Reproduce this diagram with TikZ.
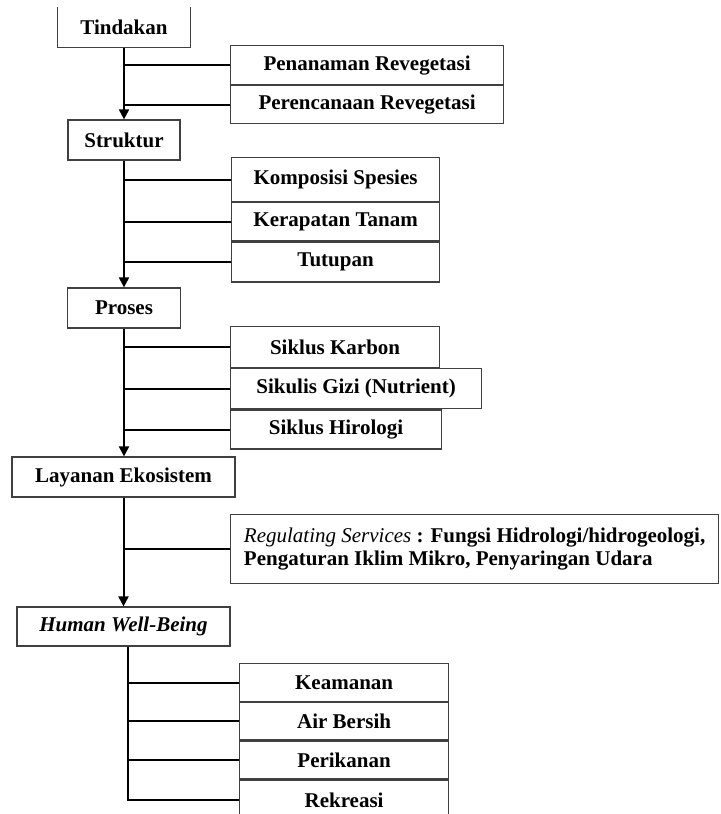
\documentclass[tikz,border=0pt]{standalone}
\usepackage{fontspec}
\setmainfont{Liberation Serif}
\usepackage{tikz}
\usetikzlibrary{positioning,arrows.meta}
\tikzset{
  main/.style={rectangle,draw=black!75,line width=0.6pt,fill=white,inner sep=0pt,minimum height=19.5pt,font=\fontsize{10.5}{12.5}\selectfont\bfseries},
  sub/.style={rectangle,draw=black!75,line width=0.6pt,fill=white,inner sep=0pt,minimum width=104.5pt,minimum height=19.5pt,anchor=north west,font=\fontsize{10.5}{12.5}\selectfont\bfseries},
  frame/.style={line width=0.6pt,black!75},
  flow/.style={-{Triangle[length=5pt,width=5pt]},line width=1pt,black},
  branch/.style={line width=1pt,black},
}
\begin{document}
\begin{tikzpicture}[x=0.5pt,y=-0.5pt]
  \useasboundingbox (0,0) rectangle (720,814);
  \node[main,draw=none,fill=none,minimum width=66pt] (tin) at (124,27.5) {Tindakan};
  \draw[frame] (tin.north west) -- (tin.south west) -- (tin.south east) -- (tin.north east);
  \node[sub,minimum width=136.5pt] (pen) at (230,45) {Penanaman Revegetasi};
  \node[sub,minimum width=136.5pt,minimum height=19pt] (per) at (pen.south west) {Perencanaan Revegetasi};

  \node[main,minimum width=56pt,minimum height=20pt] (str) at (124,140) {Struktur};
  \node[sub,minimum width=104pt,minimum height=22pt] (kom) at (231,157) {Komposisi Spesies};
  \node[sub,minimum width=104pt,minimum height=19pt] (ker) at (kom.south west) {Kerapatan Tanam};
  \node[sub,minimum width=104pt,minimum height=20pt] (tut) at (ker.south west) {Tutupan};

  \node[main,minimum width=56.5pt,minimum height=20pt] (pro) at (124,308) {Proses};
  \node[sub,minimum height=20.5pt] (kar) at (230,326) {Siklus Karbon};
  \node[sub,minimum width=125.5pt,minimum height=20pt] (giz) at (kar.south west) {Sikulis Gizi (Nutrient)};
  \node[sub,minimum width=105.5pt] (hir) at (giz.south west) {Siklus Hirologi};

  \node[main,minimum width=111.5pt,minimum height=20pt] (lay) at (123.5,477) {Layanan Ekosistem};
  \node[sub,minimum width=244pt,minimum height=34.5pt,align=left,
        font=\fontsize{10.5}{11.5}\selectfont\bfseries] (reg) at (230,514)
        {\textit{\mdseries Regulating Services} : Fungsi Hidrologi/hidrogeologi,\\Pengaturan Iklim Mikro, Penyaringan Udara};

  \node[main,minimum width=106.5pt] (hum) at (123.5,626.5) {\textit{Human Well-Being}};
  \coordinate (hx) at ([xshift=2pt]hum.south);
  \node[sub,minimum height=19pt] (kea) at (239,663) {Keamanan};
  \node[sub,minimum height=18.5pt] (air) at (kea.south west) {Air Bersih};
  \node[sub,minimum height=19pt] (ikn) at (air.south west) {Perikanan};
  \node[sub,minimum height=20pt] (rek) at (ikn.south west) {Rekreasi};

  \draw[flow] (tin.south) -- (tin.south |- str.north);
  \draw[branch] (pen.west) -- (pen.west -| tin.south);
  \draw[branch] (per.west) -- (per.west -| tin.south);

  \draw[flow] (str.south) -- (str.south |- pro.north);
  \draw[branch] (kom.west) -- (kom.west -| str.south);
  \draw[branch] (ker.west) -- (ker.west -| str.south);
  \draw[branch] (tut.west) -- (tut.west -| str.south);

  \draw[flow] (pro.south) -- (pro.south |- lay.north);
  \draw[branch] (kar.west) -- (kar.west -| pro.south);
  \draw[branch] (giz.west) -- (giz.west -| pro.south);
  \draw[branch] (hir.west) -- (hir.west -| pro.south);

  \draw[flow] (lay.south) -- (lay.south |- hum.north);
  \draw[branch] (reg.west) -- (reg.west -| lay.south);

  \draw[branch] (hx) |- (rek.west);
  \draw[branch] (kea.west) -- (kea.west -| hx);
  \draw[branch] (air.west) -- (air.west -| hx);
  \draw[branch] (ikn.west) -- (ikn.west -| hx);
\end{tikzpicture}
\end{document}
